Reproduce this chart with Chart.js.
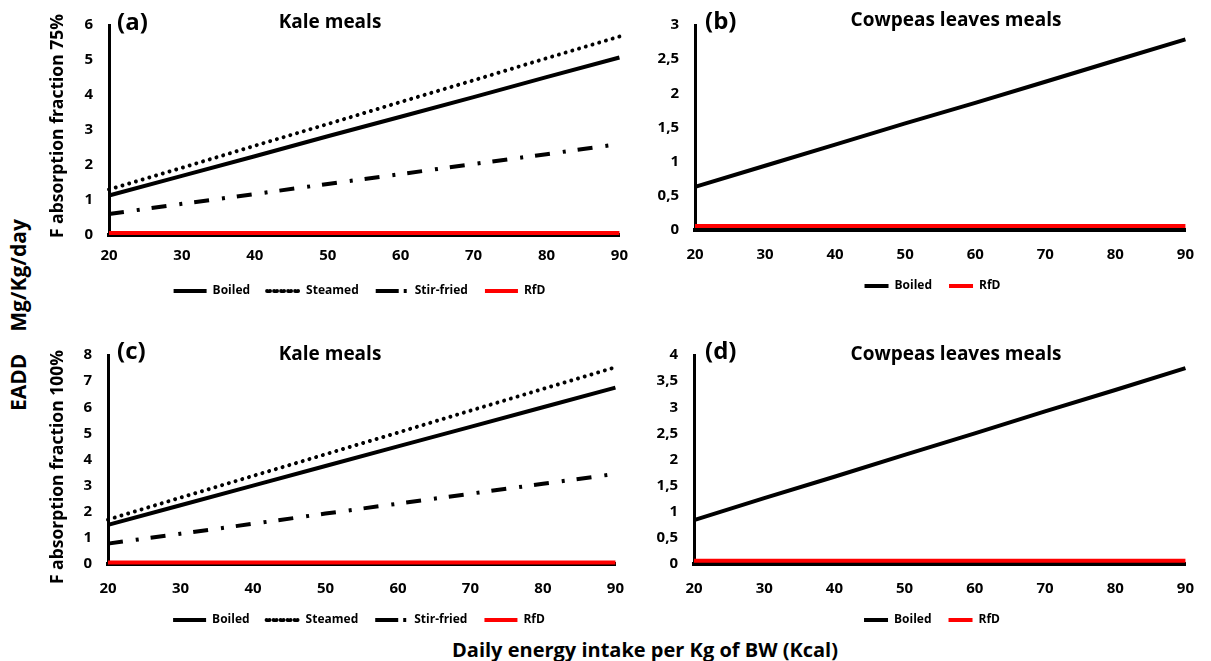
<!DOCTYPE html>
<html>
<head>
<meta charset="utf-8">
<script src="https://cdn.jsdelivr.net/npm/chart.js@4.4.1/dist/chart.umd.min.js"></script>
<style>
  body { margin: 0; background: #fff; font-family: "Open Sans", sans-serif; }
  #page { position: relative; width: 1211px; height: 661px; overflow: hidden; }
  .box { position: absolute; }
  .txt { position: absolute; color: #000; font-weight: bold; white-space: pre; line-height: 1; }
  .rot { transform: translate(-50%, -50%) rotate(-90deg); }
</style>
</head>
<body>
<div id="page">
  <div class="box" style="left:40px;top:0px;width:600px;height:307px;"><canvas id="chartA"></canvas></div>
  <div class="box" style="left:640px;top:0px;width:570px;height:302px;"><canvas id="chartB"></canvas></div>
  <div class="box" style="left:40px;top:330px;width:600px;height:306px;"><canvas id="chartC"></canvas></div>
  <div class="box" style="left:640px;top:330px;width:570px;height:306px;"><canvas id="chartD"></canvas></div>

  <div class="txt" style="left:117px;top:9px;font-size:24px;">(a)</div>
  <div class="txt" style="left:330px;top:12px;font-size:19px;transform:translateX(-50%);">Kale meals</div>
  <div class="txt" style="left:705px;top:8px;font-size:24px;">(b)</div>
  <div class="txt" style="left:956px;top:10px;font-size:19px;transform:translateX(-50%);">Cowpeas leaves meals</div>
  <div class="txt" style="left:117px;top:338px;font-size:24px;">(c)</div>
  <div class="txt" style="left:330px;top:344px;font-size:19px;transform:translateX(-50%);">Kale meals</div>
  <div class="txt" style="left:705px;top:338px;font-size:24px;">(d)</div>
  <div class="txt" style="left:956px;top:344px;font-size:19px;transform:translateX(-50%);">Cowpeas leaves meals</div>

  <div class="txt rot" style="left:57px;top:126px;font-size:17.5px;">F absorption fraction 75%</div>
  <div class="txt rot" style="left:57px;top:467px;font-size:17.5px;">F absorption fraction 100%</div>
  <div class="txt rot" style="left:18px;top:315px;font-size:21px;">EADD    Mg/Kg/day</div>
  <div class="txt" style="left:645px;top:640px;font-size:20px;transform:translateX(-50%);">Daily energy intake per Kg of BW (Kcal)</div>
</div>

<script>
// x values (Kcal per kg BW)
var intake = [20, 30, 40, 50, 60, 70, 80, 90];

// (a) kale, 75% absorption
var kaleBoiled75 = [1.13, 1.69, 2.25, 2.82, 3.38, 3.94, 4.51, 5.07];
var kaleSteamed75 = [1.30, 1.92, 2.55, 3.17, 3.80, 4.42, 5.05, 5.67];
var kaleStirFried75 = [0.60, 0.89, 1.17, 1.46, 1.74, 2.03, 2.31, 2.60];
// (b) cowpeas leaves, 75%
var cowpeaBoiled75 = [0.63, 0.94, 1.25, 1.56, 1.86, 2.17, 2.48, 2.79];
// (c) kale, 100%
var kaleBoiled100 = [1.50, 2.25, 3.00, 3.75, 4.50, 5.25, 6.00, 6.75];
var kaleSteamed100 = [1.70, 2.54, 3.37, 4.20, 5.03, 5.87, 6.70, 7.53];
var kaleStirFried100 = [0.78, 1.16, 1.54, 1.93, 2.31, 2.69, 3.07, 3.45];
// (d) cowpeas leaves, 100%
var cowpeaBoiled100 = [0.84, 1.26, 1.67, 2.09, 2.50, 2.92, 3.33, 3.75];
// reference dose
var rfd = [0.06, 0.06, 0.06, 0.06, 0.06, 0.06, 0.06, 0.06];

var FONT = '"Open Sans", sans-serif';

function pts(vals) {
    return intake.map(function (x, i) { return { x: x, y: vals[i] }; });
}

function boiled(vals) {
    return { label: 'Boiled', data: pts(vals), borderColor: '#000', backgroundColor: '#000', borderWidth: 4, pointRadius: 0 };
}
function steamed(vals) {
    return { label: 'Steamed', data: pts(vals), borderColor: '#000', backgroundColor: '#000', borderWidth: 4, borderDash: [0.01, 7], borderCapStyle: 'round', pointRadius: 0 };
}
function stirFried(vals) {
    return { label: 'Stir-fried', data: pts(vals), borderColor: '#000', backgroundColor: '#000', borderWidth: 4, borderDash: [15, 13, 3, 12], pointRadius: 0 };
}
function rfdLine() {
    return { label: 'RfD', data: pts(rfd), borderColor: '#ff0000', backgroundColor: '#ff0000', borderWidth: 4, pointRadius: 0 };
}

// nudge the legend sideways so it sits under the plot like in the figure
var legendShift = {
    id: 'legendShift',
    afterLayout: function (chart, args, opts) {
        if (chart.legend) {
            chart.legend.left += opts.dx;
            chart.legend.right += opts.dx;
        }
    }
};

function makeChart(id, datasets, yMax, yStep, yWidth, pad, xPad, dx, boxW) {
    new Chart(document.getElementById(id), {
        type: 'line',
        data: { datasets: datasets },
        plugins: [legendShift],
        options: {
            responsive: true,
            maintainAspectRatio: false,
            animation: false,
            clip: false,
            layout: { padding: pad },
            plugins: {
                tooltip: { enabled: false },
                legendShift: { dx: dx },
                legend: {
                    position: 'bottom',
                    labels: {
                        boxWidth: boxW,
                        boxHeight: 0,
                        padding: 17,
                        color: '#000',
                        font: { family: FONT, size: 12, weight: 'bold' }
                    }
                }
            },
            scales: {
                x: {
                    type: 'linear',
                    min: 20,
                    max: 90,
                    grid: { display: false, drawTicks: false },
                    border: { display: true, color: '#000', width: 4 },
                    ticks: {
                        stepSize: 10,
                        padding: xPad,
                        color: '#000',
                        font: { family: FONT, size: 15, weight: 'bold' }
                    },
                    afterFit: function (s) { s.height = 33; }
                },
                y: {
                    min: 0,
                    max: yMax,
                    grid: { display: false, drawTicks: false },
                    border: { display: true, color: '#000', width: 3 },
                    ticks: {
                        stepSize: yStep,
                        padding: 16,
                        color: '#000',
                        font: { family: FONT, size: 15, weight: 'bold' },
                        callback: function (v) { return String(v).replace('.', ','); }
                    },
                    afterFit: function (s) { s.width = yWidth; }
                }
            }
        }
    });
}

makeChart('chartA',
    [boiled(kaleBoiled75), steamed(kaleSteamed75), stirFried(kaleStirFried75), rfdLine()],
    6, 1, 60, { left: 9, right: 20, top: 24, bottom: 0 }, 12, 25, 33);

makeChart('chartB',
    [boiled(cowpeaBoiled75), rfdLine()],
    3, 0.5, 40, { left: 15, right: 20, top: 18, bottom: 0 }, 16, 10, 24);

makeChart('chartC',
    [boiled(kaleBoiled100), steamed(kaleSteamed100), stirFried(kaleStirFried100), rfdLine()],
    8, 1, 60, { left: 8, right: 20, top: 24, bottom: 0 }, 16, 25, 33);

makeChart('chartD',
    [boiled(cowpeaBoiled100), rfdLine()],
    4, 0.5, 40, { left: 14, right: 20, top: 24, bottom: 0 }, 16, 10, 24);
</script>
</body>
</html>
